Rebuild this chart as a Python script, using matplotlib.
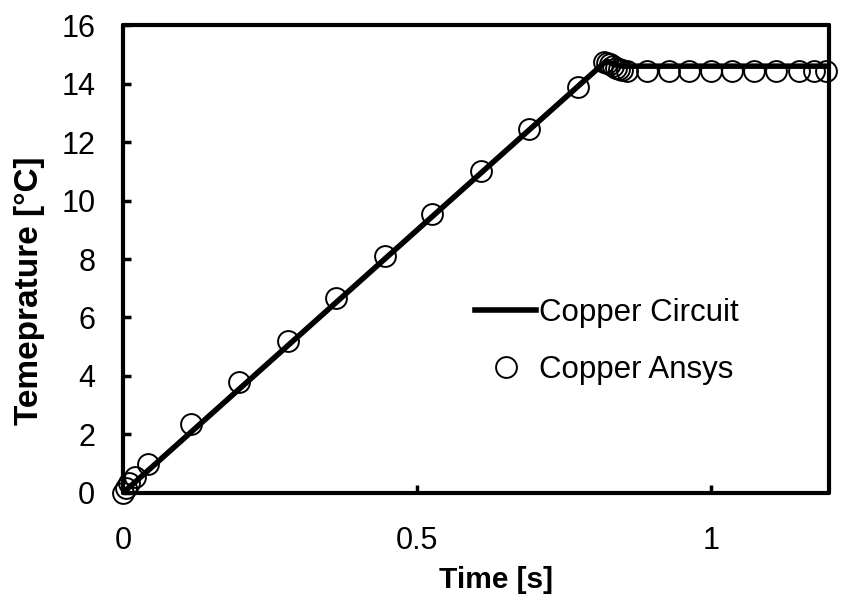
import matplotlib
matplotlib.use("Agg")
import matplotlib.pyplot as plt

# Data
circuit_t = [0.0, 0.822, 0.835, 0.85, 1.2]
circuit_T = [0.0, 14.78, 14.65, 14.6, 14.6]

ansys_t = [0.0, 0.005, 0.01, 0.02, 0.042, 0.115, 0.197, 0.28, 0.362, 0.445,
           0.526, 0.608, 0.691, 0.773, 0.818, 0.823, 0.828, 0.833, 0.838,
           0.843, 0.848, 0.857, 0.891, 0.929, 0.963, 1.0, 1.036, 1.073,
           1.110, 1.149, 1.175, 1.195]
ansys_T = [0.0, 0.15, 0.35, 0.55, 1.0, 2.35, 3.8, 5.2, 6.65, 8.1,
           9.55, 11.0, 12.45, 13.9, 14.75, 14.72, 14.66, 14.6, 14.55,
           14.5, 14.47, 14.45, 14.45, 14.45, 14.45, 14.45, 14.45, 14.45,
           14.45, 14.45, 14.45, 14.45]

xticks = [0, 0.5, 1]
xticklabels = ["0", "0.5", "1"]
yticks = [0, 2, 4, 6, 8, 10, 12, 14, 16]

plt.rcParams['font.family'] = ['Liberation Sans', 'DejaVu Sans']

fig = plt.figure(figsize=(8.43, 6.01), dpi=100)
ax = fig.add_axes([0.146, 0.180, 0.837, 0.778])

ax.plot(circuit_t, circuit_T, color='black', lw=4, label='Copper Circuit',
        solid_joinstyle='round', zorder=2)
ax.plot(ansys_t, ansys_T, linestyle='none', marker='o', markersize=15,
        markerfacecolor='none', markeredgecolor='black', markeredgewidth=1.4,
        label='Copper Ansys', zorder=3, clip_on=False)

ax.set_xlim(0, 1.2)
ax.set_ylim(0, 16)
ax.set_xticks(xticks)
ax.set_xticklabels(xticklabels)
ax.set_yticks(yticks)

for s in ax.spines.values():
    s.set_linewidth(3)
    s.set_capstyle('round')
    s.set_joinstyle('round')

ax.tick_params(direction='in', length=6, width=2.5, labelsize=22)
ax.tick_params(axis='y', pad=20)
ax.tick_params(axis='x', pad=24)

ax.set_xlabel('Time [s]', fontsize=21.5, fontweight='bold', labelpad=7)
ax.set_ylabel('Temeprature [°C]', fontsize=24, fontweight='bold', labelpad=12)
ax.xaxis.label.set_x(0.528)
ax.yaxis.label.set_y(0.432)

leg = ax.legend(loc='center left', bbox_to_anchor=(0.499, 0.324), frameon=False,
                fontsize=22.5, handlelength=1.95, handletextpad=0.1,
                labelspacing=0.85, borderpad=0, borderaxespad=0)

fig.savefig('out.png', dpi=100)
